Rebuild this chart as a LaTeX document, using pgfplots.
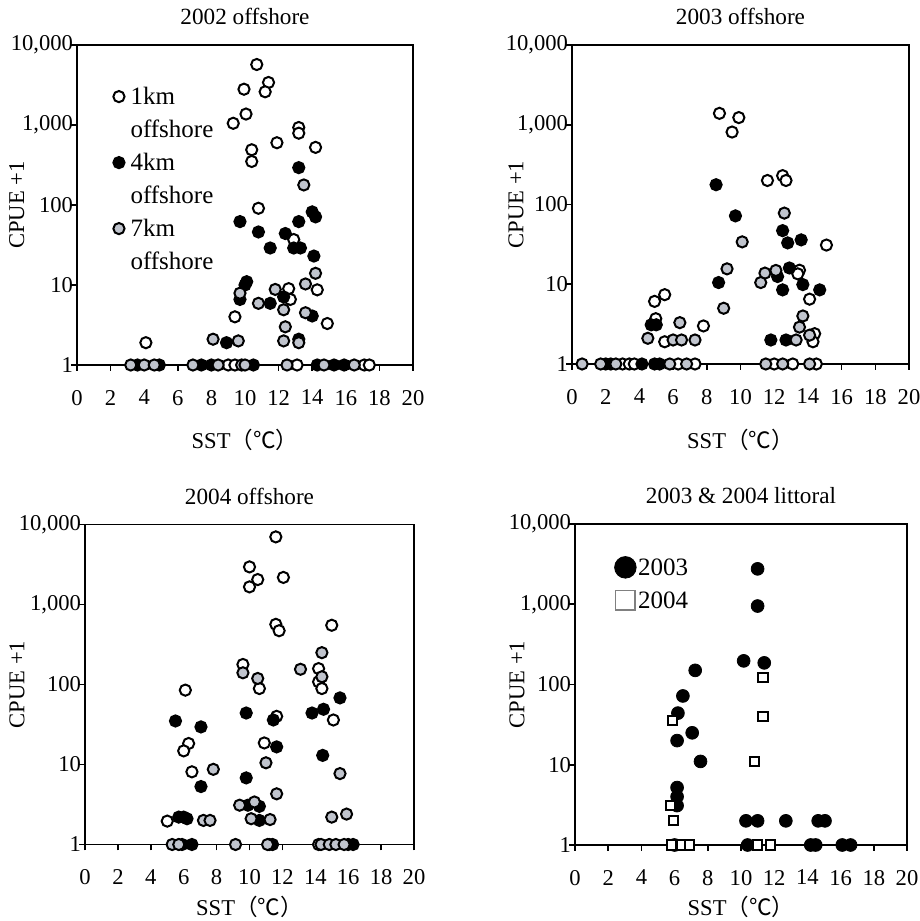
\documentclass[border=0pt]{standalone}
\usepackage{fontspec}
\setmainfont{Liberation Serif}
\newfontfamily\cjk{Noto Sans CJK SC}
\usepackage{pgfplots}
\pgfplotsset{compat=1.18}

\definecolor{gfill}{RGB}{192,196,205}

\pgfplotsset{
  mypanel/.style={
    scale only axis,
    xmin=0, xmax=20, ymin=1, ymax=10000,
    xtick={0,2,...,20},
    ytick={1,10,100,1000,10000},
    yticklabels={1,10,100,{1,000},{10,000}},
    yminorticks=false,
    tick align=outside, tick pos=left,
    axis line style={line width=0.8pt},
    major tick style={line width=0.8pt, black},
    major tick length=3pt,
    clip=false,
    /pgf/number format/assume math mode=true,
    tick label style={font=\fontsize{11.3}{13}\selectfont},
    xticklabel style={yshift=-6pt},
    yticklabel style={xshift=4.5pt},
    title style={font=\fontsize{11.6}{13}\selectfont, at={(axis description cs:0.5,1)}, anchor=south, yshift=0.5pt},
    label style={font=\fontsize{11.3}{13}\selectfont},
    xlabel={SST{\cjk （℃）}},
    ylabel={CPUE +1},
    legend style={draw=none, fill=none, font=\fontsize{12.5}{14}\selectfont,
      nodes={inner sep=1pt, text height=9pt, text depth=1pt}, row sep=4.5pt},
    legend cell align=left,
  },
  km1/.style={only marks, mark=*, mark size=2.8pt, mark options={fill=white, draw=black, line width=1pt}},
  km4/.style={only marks, mark=*, mark size=2.8pt, mark options={fill=black, draw=black, line width=1pt}},
  km7/.style={only marks, mark=*, mark size=2.8pt, mark options={fill=gfill, draw=black, line width=1pt}},
}

\begin{document}
\begin{tikzpicture}
\path[use as bounding box] (0,0) rectangle (460pt,460.5pt);

% 2002 offshore
\begin{axis}[ymode=log, mypanel, at={(38.5pt,278pt)}, width=168pt, height=160pt,
    title={2002 offshore},
    xlabel style={at={(axis description cs:0.5,0)}, anchor=center, yshift=-37.5pt},
    ylabel style={at={(axis description cs:-0.179,0.5)}, anchor=center},
    legend style={at={(axis description cs:0.055,0.89)}, anchor=north west, column sep=2pt},
]
\addplot[km1] coordinates {
  (10.7,5700) (9.94,2800) (11.4,3400) (11.2,2600) (10.06,1370) (9.3,1050)
  (13.2,930) (13.2,790) (11.9,600) (14.2,525) (10.4,490) (10.4,350)
  (10.8,91) (12.9,37) (12.6,9) (12.7,6.6) (14.3,8.7) (9.4,4) (14.9,3.3)
  (4.1,1.9) (9.0,1) (9.4,1) (13.1,1) (17.1,1) (17.4,1)
};
\addlegendimage{empty legend}
\addplot[km4] coordinates {
  (13.2,293) (9.7,62) (10.8,46) (12.4,44) (13.2,62) (14.0,82) (14.2,71)
  (11.5,29) (12.9,29) (13.3,29) (14.1,23) (10.1,11) (10.0,10) (9.7,6.6)
  (11.5,5.9) (12.3,7.1) (14.0,4.1) (8.9,1.9) (13.2,2.1)
  (3.6,1) (4.9,1) (7.4,1) (8.0,1) (10.5,1) (14.3,1) (15.3,1) (15.9,1)
};
\addlegendimage{empty legend}
\addplot[km7] coordinates {
  (13.5,178) (14.2,14) (13.6,10.3) (11.8,8.8) (9.7,7.9) (10.8,5.9)
  (12.3,4.9) (13.6,4.5) (12.4,3) (8.1,2.1) (9.6,2) (12.3,2) (13.2,1.9)
  (3.2,1) (4.0,1) (4.6,1) (6.9,1) (8.4,1) (9.8,1) (10.0,1) (12.5,1) (14.7,1) (16.5,1)
};
\addlegendimage{empty legend}
\legend{1km, offshore, 4km, offshore, 7km, offshore}
\end{axis}

% 2003 offshore
\begin{axis}[ymode=log, mypanel, at={(286pt,278.5pt)}, width=168.5pt, height=159.5pt,
    title={2003 offshore},
    xlabel style={at={(axis description cs:0.5,0)}, anchor=center, yshift=-38pt},
    ylabel style={at={(axis description cs:-0.166,0.5)}, anchor=center},
]
\addplot[km1] coordinates {
  (8.75,1390) (9.9,1230) (9.5,810) (11.6,200) (12.5,230) (12.7,200)
  (15.1,31) (13.5,15) (13.4,13.5) (14.1,6.5) (4.9,6.1) (5.5,7.4) (4.97,3.7)
  (7.8,3) (5.5,1.9) (14.4,2.4) (14.3,1.9)
  (3.0,1) (3.4,1) (3.7,1) (6.3,1) (7.3,1) (12.0,1) (13.1,1) (14.5,1)
};
\addplot[km4] coordinates {
  (8.55,177) (9.7,72) (8.7,10.5) (12.5,47) (12.8,33) (13.6,36) (12.9,16)
  (12.2,12.5) (12.5,8.5) (13.7,9.9) (14.7,8.5) (4.7,3.1) (5.0,3.1)
  (11.8,2) (12.7,2) (2.0,1) (2.3,1) (4.15,1) (4.9,1) (5.2,1)
};
\addplot[km7] coordinates {
  (12.6,78) (10.1,34) (9.2,15.6) (9.0,5) (11.45,13.8) (11.2,10.5) (12.1,14.9)
  (13.7,4) (13.5,2.9) (13.3,2) (14.1,2.3) (6.4,3.3) (4.5,2.1) (6.0,2) (6.5,2) (7.3,2)
  (0.6,1) (1.7,1) (2.6,1) (5.8,1) (6.8,1) (11.5,1) (12.5,1) (14.1,1)
};
\end{axis}

% 2004 offshore
\begin{axis}[ymode=log, mypanel, at={(42.5pt,38.25pt)}, width=164.5pt, height=160pt,
    title={2004 offshore},
    xlabel style={at={(axis description cs:0.5,0)}, anchor=center, yshift=-31pt},
    ylabel style={at={(axis description cs:-0.207,0.5)}, anchor=center},
]
\addplot[km1] coordinates {
  (11.6,7000) (10.0,2950) (10.5,2050) (10.0,1660) (12.06,2180) (11.6,565)
  (11.8,470) (15.0,550) (9.6,178) (14.2,158) (14.2,108) (14.4,89) (10.6,89)
  (6.1,85) (11.65,40) (15.1,36) (10.9,18.6) (6.3,18.3) (6.0,14.8) (6.5,8.1)
  (5.0,1.96) (11.2,1) (14.2,1)
};
\addplot[km4] coordinates {
  (5.5,35) (7.05,29.5) (9.8,44) (11.45,36) (11.65,16.6) (13.8,44) (14.5,49)
  (15.5,68) (14.45,13) (7.05,5.3) (9.8,6.8) (5.7,2.2) (6.0,2.2) (6.2,2.1)
  (9.9,3.1) (10.6,3) (10.6,2) (5.9,1) (6.5,1) (11.4,1) (16.0,1) (16.3,1)
};
\addplot[km7] coordinates {
  (14.4,250) (13.1,155) (9.6,140) (10.5,119) (14.4,125) (11.0,10.5) (7.8,8.7)
  (15.5,7.7) (11.65,4.3) (9.4,3.1) (10.3,3.4) (10.1,2.1) (11.25,2.05)
  (7.2,2) (7.6,2) (15.0,2.2) (15.9,2.4)
  (5.3,1) (5.7,1) (9.15,1) (11.1,1) (14.35,1) (14.85,1) (15.25,1) (15.75,1)
};
\end{axis}

% 2003 & 2004 littoral
\begin{axis}[ymode=log, mypanel, at={(287.5pt,38pt)}, width=166pt, height=160.5pt,
    title={2003 \& 2004 littoral},
    xlabel style={at={(axis description cs:0.5,0)}, anchor=center, yshift=-31pt},
    ylabel style={at={(axis description cs:-0.175,0.5)}, anchor=center},
    legend style={at={(axis description cs:0.100,0.916)}, anchor=north west, column sep=0pt},
]
\addlegendimage{only marks, mark=*, mark size=5.4pt, black}
\addlegendimage{only marks, mark=square, mark size=4.8pt, mark options={draw=gray, line width=0.6pt}}
\addplot[forget plot, only marks, mark=*, mark size=3.2pt, black] coordinates {
  (11.0,2760) (11.0,950) (10.16,197) (11.4,186) (7.24,150) (6.5,72) (6.2,44)
  (7.06,25) (6.15,20) (7.56,11) (6.15,5.2) (6.15,4) (6.15,3.1)
  (10.3,2) (11.0,2) (12.7,2) (14.65,2) (15.06,2)
  (6.0,1) (10.4,1) (14.2,1) (14.5,1) (16.1,1) (16.6,1)
};
\addplot[forget plot, only marks, mark=square*, mark size=2.3pt, mark options={fill=white, draw=black, line width=1pt}] coordinates {
  (11.33,122) (11.33,40) (10.8,11) (5.85,36) (5.75,3.1) (5.95,2)
  (5.8,1) (6.4,1) (6.9,1) (11.0,1) (11.8,1)
};
\legend{2003, 2004}
\end{axis}
\end{tikzpicture}
\end{document}
